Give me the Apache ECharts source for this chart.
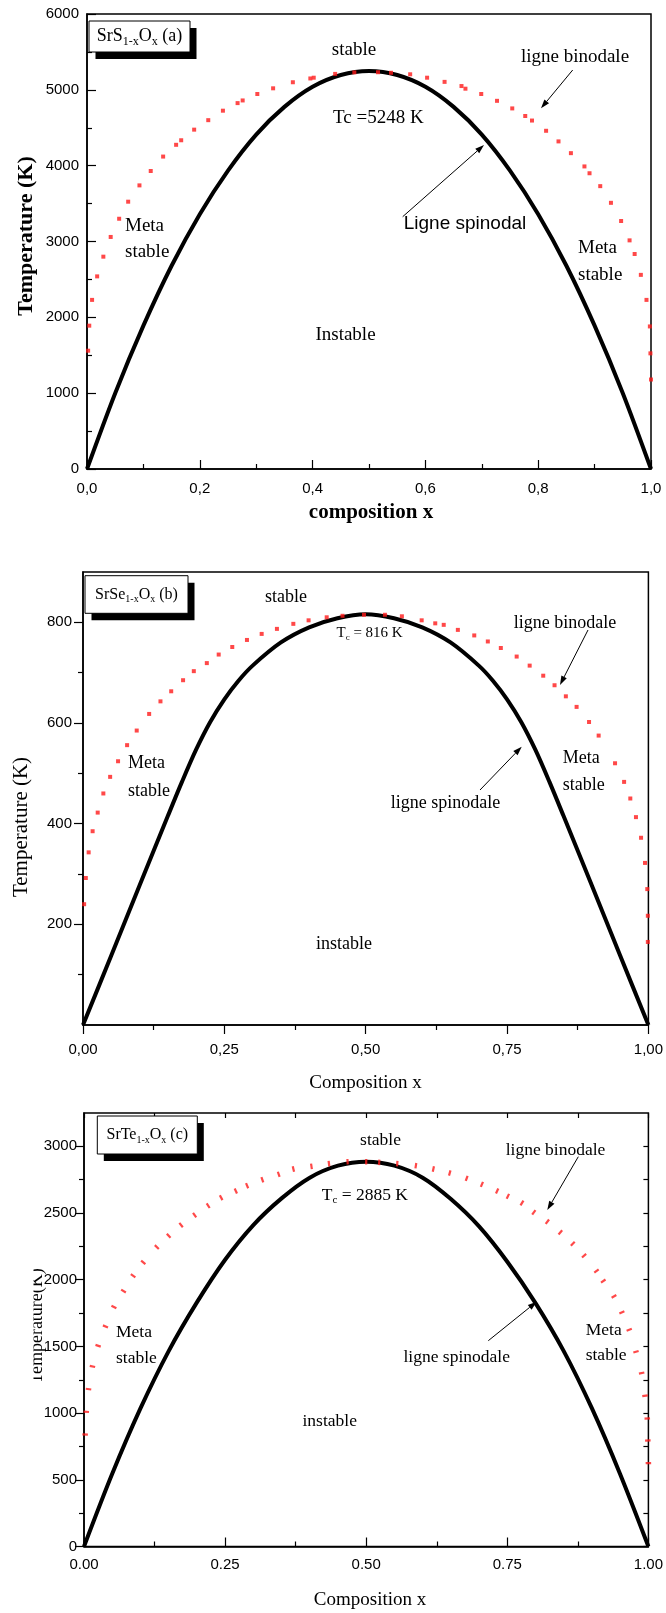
<!DOCTYPE html>
<html>
<head>
<meta charset="utf-8">
<script src="https://cdn.jsdelivr.net/npm/echarts@6/dist/echarts.min.js"></script>
<style>
  html, body { margin: 0; padding: 0; background: #fff; }
  #c { width: 666px; height: 1613px; }
</style>
</head>
<body>
<div id="c"></div>
<script>
// ---- Spinodal curves (composition x -> temperature K) ----
const spinA_x = [0, 0.05, 0.1, 0.15, 0.2, 0.25, 0.3, 0.35, 0.4, 0.45, 0.5,
                 0.55, 0.6, 0.65, 0.7, 0.75, 0.8, 0.85, 0.9, 0.95, 1.0];
const spinA_T = [0, 1000, 1890, 2680, 3360, 3935, 4410, 4775, 5040, 5195, 5248,
                 5195, 5040, 4775, 4410, 3935, 3360, 2680, 1890, 1000, 0];

const spinB_x = [0, 0.05, 0.1, 0.15, 0.175, 0.2, 0.225, 0.25, 0.275, 0.3, 0.35, 0.4, 0.45, 0.5,
                 0.55, 0.6, 0.65, 0.7, 0.725, 0.75, 0.775, 0.8, 0.825, 0.85, 0.9, 0.95, 1.0];
const spinB_T = [0, 138, 277, 415, 483, 547, 602, 647, 684, 714, 760, 790, 808, 816,
                 808, 790, 760, 714, 684, 647, 602, 547, 483, 415, 277, 138, 0];

const spinC_x = [0, 0.05, 0.1, 0.15, 0.2, 0.25, 0.3, 0.35, 0.4, 0.45, 0.5,
                 0.55, 0.6, 0.65, 0.7, 0.75, 0.8, 0.85, 0.9, 0.95, 1.0];
const spinC_T = [0, 545, 1035, 1465, 1830, 2150, 2410, 2610, 2765, 2855, 2885,
                 2855, 2765, 2605, 2400, 2135, 1825, 1465, 1035, 542, 0];

// ---- Binodal points ----
const binA_x = [0.002, 0.004, 0.009, 0.018, 0.029, 0.042, 0.057, 0.073, 0.093, 0.113, 0.135, 0.158, 0.167,
                0.19, 0.215, 0.241, 0.267, 0.276, 0.302, 0.33, 0.365, 0.396, 0.402, 0.44, 0.474, 0.516, 0.539,
                0.573, 0.603, 0.634, 0.664, 0.671, 0.699, 0.727, 0.754, 0.777, 0.789, 0.814, 0.836, 0.858,
                0.882, 0.891, 0.91, 0.929, 0.947, 0.962, 0.971, 0.982, 0.992, 0.998, 0.999, 1.0];
const binA_T = [1560, 1890, 2230, 2540, 2800, 3060, 3300, 3525, 3740, 3930, 4120, 4275, 4335,
                4475, 4600, 4725, 4825, 4860, 4945, 5020, 5100, 5150, 5160, 5210, 5230, 5232, 5225,
                5205, 5160, 5105, 5050, 5015, 4945, 4855, 4755, 4655, 4595, 4460, 4320, 4165,
                3990, 3900, 3730, 3510, 3270, 3015, 2835, 2560, 2230, 1880, 1525, 1180];

const binB_x = [0.002, 0.005, 0.010, 0.017, 0.026, 0.036, 0.048, 0.062, 0.078, 0.095, 0.117, 0.137, 0.156,
                0.177, 0.196, 0.219, 0.240, 0.264, 0.290, 0.316, 0.343, 0.372, 0.399, 0.431, 0.459, 0.497,
                0.534, 0.564, 0.599, 0.623, 0.638, 0.663, 0.692, 0.716, 0.739, 0.767, 0.790, 0.814, 0.834,
                0.854, 0.873, 0.895, 0.912, 0.941, 0.957, 0.968, 0.978, 0.987, 0.994, 0.998, 0.999, 0.999];
const binB_T = [240, 292, 343, 385, 422, 460, 493, 524, 556, 585, 618, 643, 663,
                685, 703, 719, 736, 751, 765, 777, 787, 797, 804, 810, 813, 815,
                815, 812, 804, 798, 795, 785, 774, 762, 749, 732, 714, 694, 675,
                653, 632, 602, 575, 520, 483, 450, 413, 372, 322, 270, 217, 165];

const binC_x = [0.002, 0.004, 0.008, 0.015, 0.025, 0.038, 0.053, 0.070, 0.087, 0.105, 0.129, 0.150, 0.172,
                0.196, 0.220, 0.243, 0.269, 0.289, 0.316, 0.345, 0.371, 0.403, 0.434, 0.467, 0.500, 0.523,
                0.555, 0.588, 0.619, 0.648, 0.678, 0.705, 0.732, 0.751, 0.776, 0.797, 0.821, 0.844, 0.866,
                0.886, 0.908, 0.920, 0.939, 0.953, 0.966, 0.978, 0.988, 0.994, 0.998, 0.999, 1.0];
const binC_T = [840, 1010, 1180, 1350, 1505, 1650, 1795, 1915, 2030, 2130, 2245, 2330, 2410,
                2485, 2555, 2615, 2665, 2705, 2750, 2790, 2830, 2850, 2870, 2885, 2885, 2880,
                2870, 2855, 2830, 2800, 2760, 2715, 2665, 2625, 2575, 2505, 2435, 2355, 2270,
                2180, 2065, 1990, 1875, 1755, 1625, 1460, 1300, 1130, 960, 795, 625];

// ---- Axis ticks ----
const ticksA_x = [0, 0.2, 0.4, 0.6, 0.8, 1.0];
const minorA_x = [0.1, 0.3, 0.5, 0.7, 0.9];
const ticksA_y = [0, 1000, 2000, 3000, 4000, 5000, 6000];
const minorA_y = [500, 1500, 2500, 3500, 4500, 5500];

const ticksB_x = [0, 0.25, 0.5, 0.75, 1.0];
const minorB_x = [0.125, 0.375, 0.625, 0.875];
const ticksB_y = [200, 400, 600, 800];
const minorB_y = [100, 300, 500, 700];

const ticksC_x = [0, 0.25, 0.5, 0.75, 1.0];
const minorC_x = [0.125, 0.375, 0.625, 0.875];
const ticksC_y = [0, 500, 1000, 1500, 2000, 2500, 3000];
const minorC_y = [250, 750, 1250, 1750, 2250, 2750];

const SERIF = '"Liberation Serif", "Times New Roman", serif';
const SANS = '"Liberation Sans", Arial, sans-serif';

const chart = echarts.init(document.getElementById('c'), null, { renderer: 'canvas' });

const xAxes = [], yAxes = [];

function addAxis(list, o) {
  list.push({
    type: 'value',
    gridIndex: o.grid,
    min: o.min, max: o.max,
    position: o.position,
    axisLine: { show: !!o.line, onZero: false, lineStyle: { color: '#000', width: 1.5 } },
    axisTick: {
      show: true, inside: o.inside, length: o.len,
      customValues: o.ticks,
      lineStyle: { color: '#000', width: 1.2 }
    },
    axisLabel: o.labels ? {
      show: true, customValues: o.ticks, formatter: o.fmt, margin: o.margin,
      fontFamily: SANS, fontSize: 15, color: '#000'
    } : { show: false },
    splitLine: { show: false }
  });
  return list.length - 1;
}

// panel (a)
const ax0 = addAxis(xAxes, { grid: 0, min: 0, max: 1, position: 'bottom', line: true, inside: true, len: 9, ticks: ticksA_x, labels: true, margin: 12, fmt: v => v.toFixed(1).replace('.', ',') });
addAxis(xAxes, { grid: 0, min: 0, max: 1, position: 'bottom', inside: true, len: 5, ticks: minorA_x });
const ay0 = addAxis(yAxes, { grid: 0, min: 0, max: 6000, position: 'left', line: true, inside: true, len: 9, ticks: ticksA_y, labels: true, margin: 8, fmt: v => String(v) });
addAxis(yAxes, { grid: 0, min: 0, max: 6000, position: 'left', inside: true, len: 5, ticks: minorA_y });

// panel (b)
const ax1 = addAxis(xAxes, { grid: 1, min: 0, max: 1, position: 'bottom', line: true, inside: false, len: 9, ticks: ticksB_x, labels: true, margin: 17, fmt: v => v.toFixed(2).replace('.', ',') });
addAxis(xAxes, { grid: 1, min: 0, max: 1, position: 'bottom', inside: false, len: 5, ticks: minorB_x });
const ay1 = addAxis(yAxes, { grid: 1, min: 0, max: 900, position: 'left', line: true, inside: false, len: 9, ticks: ticksB_y, labels: true, margin: 11, fmt: v => String(v) });
addAxis(yAxes, { grid: 1, min: 0, max: 900, position: 'left', inside: false, len: 5, ticks: minorB_y });

// panel (c)
const ax2 = addAxis(xAxes, { grid: 2, min: 0, max: 1, position: 'bottom', line: true, inside: true, len: 9, ticks: ticksC_x, labels: true, margin: 11, fmt: v => v.toFixed(2) });
addAxis(xAxes, { grid: 2, min: 0, max: 1, position: 'bottom', inside: true, len: 5, ticks: minorC_x });
addAxis(xAxes, { grid: 2, min: 0, max: 1, position: 'top', inside: true, len: 5, ticks: ticksC_x.concat(minorC_x) });
const ay2 = addAxis(yAxes, { grid: 2, min: 0, max: 3250, position: 'left', line: true, inside: false, len: 9, ticks: ticksC_y, labels: true, margin: 7, fmt: v => String(v) });
addAxis(yAxes, { grid: 2, min: 0, max: 3250, position: 'left', inside: false, len: 5, ticks: minorC_y });
addAxis(yAxes, { grid: 2, min: 0, max: 3250, position: 'right', inside: true, len: 5, ticks: ticksC_y.concat(minorC_y) });

const zip = (xs, ys) => xs.map((x, i) => [x, ys[i]]);

function spinodal(xi, yi, xs, T) {
  return {
    type: 'line', xAxisIndex: xi, yAxisIndex: yi, data: zip(xs, T),
    smooth: 0.3, showSymbol: false, symbol: 'none',
    lineStyle: { color: '#000', width: 4 }, z: 3, animation: false
  };
}
function binodal(xi, yi, xs, ts, size) {
  return {
    type: 'scatter', xAxisIndex: xi, yAxisIndex: yi, data: zip(xs, ts),
    symbol: 'rect', symbolSize: size,
    itemStyle: { color: '#ff1a1a' }, z: 4, animation: false
  };
}

const series = [
  spinodal(ax0, ay0, spinA_x, spinA_T), binodal(ax0, ay0, binA_x, binA_T, 4),
  spinodal(ax1, ay1, spinB_x, spinB_T), binodal(ax1, ay1, binB_x, binB_T, 4),
  spinodal(ax2, ay2, spinC_x, spinC_T), binodal(ax2, ay2, binC_x, binC_T, [2.2, 5.5])
];

// ---- Annotation helpers ----
function txt(text, x, y, size, align, extra) {
  return {
    type: 'text', x: x, y: y, z: 10,
    style: Object.assign({
      text: text, fill: '#000', fontSize: size, fontFamily: SERIF,
      align: align || 'center', verticalAlign: 'middle'
    }, extra || {})
  };
}
function arrow(x1, y1, x2, y2) {
  const a = Math.atan2(y2 - y1, x2 - x1), L = 9, W = 3;
  const bx = x2 - L * Math.cos(a), by = y2 - L * Math.sin(a);
  return [
    { type: 'line', z: 10, shape: { x1: x1, y1: y1, x2: bx, y2: by }, style: { stroke: '#000', lineWidth: 1 } },
    { type: 'polygon', z: 10, shape: { points: [[x2, y2], [bx - W * Math.sin(a), by + W * Math.cos(a)], [bx + W * Math.sin(a), by - W * Math.cos(a)]] }, style: { fill: '#000' } }
  ];
}
function tagBox(x, y, w, h, label, letter, size, sub) {
  return [
    { type: 'rect', z: 8, shape: { x: x + 6.5, y: y + 7, width: w, height: h }, style: { fill: '#000' } },
    { type: 'rect', z: 9, shape: { x: x, y: y, width: w, height: h }, style: { fill: '#fff', stroke: '#000', lineWidth: 1 } },
    {
      type: 'text', z: 10, x: x + w / 2, y: y + h / 2,
      style: {
        text: '{m|' + label + '}{s|1-x}{m|O}{s|x}{m| (' + letter + ')}',
        align: 'center', verticalAlign: 'middle',
        rich: {
          m: { fontFamily: SERIF, fontSize: size, fill: '#000', lineHeight: size + 4 },
          s: { fontFamily: SERIF, fontSize: sub, fill: '#000', verticalAlign: 'bottom', lineHeight: sub }
        }
      }
    }
  ];
}
function tc(value, x, y, size) {
  return {
    type: 'text', x: x, y: y, z: 10,
    style: {
      text: '{m|T}{s|c}{m| = ' + value + ' K}', align: 'left', verticalAlign: 'middle',
      rich: {
        m: { fontFamily: SERIF, fontSize: size, fill: '#000', lineHeight: size + 4 },
        s: { fontFamily: SERIF, fontSize: Math.round(size * 0.62), fill: '#000', verticalAlign: 'bottom', lineHeight: size * 0.62 }
      }
    }
  };
}

const graphics = [].concat(
  // (a)
  tagBox(89, 21, 101, 31, 'SrS', 'a', 18, 12),
  txt('stable', 354, 50, 19),
  txt('Tc =5248 K', 333, 118, 19, 'left'),
  txt('ligne binodale', 575, 57, 19),
  arrow(572.7, 70, 541, 108.3),
  txt('Ligne spinodal', 465, 224, 19, 'center', { fontFamily: SANS }),
  arrow(402.7, 216.7, 484, 145),
  txt('Meta', 125, 226, 19, 'left'), txt('stable', 125, 252, 19, 'left'),
  txt('Meta', 578, 248, 19, 'left'), txt('stable', 578, 275, 19, 'left'),
  txt('Instable', 345.5, 335, 19),
  txt('composition x', 371, 513, 21, 'center', { fontWeight: 'bold' }),
  Object.assign(txt('Temperature (K)', 26, 236, 22, 'center', { fontWeight: 'bold' }), { rotation: Math.PI / 2 }),
  // (b)
  tagBox(85, 575.7, 103, 37.6, 'SrSe', 'b', 16, 10),
  txt('stable', 286, 597, 18),
  tc('816', 336.5, 633, 15),
  txt('ligne binodale', 565, 623, 18),
  arrow(588, 630, 560, 685),
  txt('ligne spinodale', 445.5, 803, 18),
  arrow(480, 790, 521.7, 746.7),
  txt('Meta', 562.7, 758, 18, 'left'), txt('stable', 562.7, 785, 18, 'left'),
  txt('Meta', 128, 763, 18, 'left'), txt('stable', 128, 791.7, 18, 'left'),
  txt('instable', 344, 944, 18),
  txt('Composition x', 365.5, 1083, 19),
  Object.assign(txt('Temperature (K)', 21, 827, 21), { rotation: Math.PI / 2 }),
  // (c)
  tagBox(97.3, 1116, 100, 38, 'SrTe', 'c', 16, 10),
  txt('stable', 380.5, 1140, 17.5),
  tc('2885', 321.7, 1195, 17.5),
  txt('ligne binodale', 555.5, 1150, 17.5),
  arrow(578.3, 1156.7, 547.3, 1210),
  txt('ligne spinodale', 456.7, 1357, 17.5),
  arrow(488.3, 1340.7, 536.7, 1301.7),
  txt('Meta', 585.7, 1330, 17.5, 'left'), txt('stable', 585.7, 1355, 17.5, 'left'),
  txt('Meta', 116, 1332, 17.5, 'left'), txt('stable', 116, 1358, 17.5, 'left'),
  txt('instable', 329.7, 1421, 17.5),
  txt('Composition x', 370, 1600, 19),
  // (c) axis title, its outer edge trimmed by the page margin
  Object.assign(txt('Temperature(K)', 37.5, 1326, 18), { rotation: Math.PI / 2 }),
  { type: 'rect', z: 11, shape: { x: 0, y: 1240, width: 33.5, height: 175 }, style: { fill: '#fff' } }
);

const option = {
  animation: false,
  backgroundColor: '#fff',
  grid: [
    { left: 87, top: 14, width: 564, height: 455, show: true, borderColor: '#000', borderWidth: 1.5, backgroundColor: 'transparent' },
    { left: 83, top: 572, width: 568, height: 453, show: true, borderColor: '#000', borderWidth: 1.5, backgroundColor: 'transparent' },
    { left: 84, top: 1113, width: 573, height: 433.5, show: true, borderColor: '#000', borderWidth: 1.5, backgroundColor: 'transparent' }
  ],
  xAxis: xAxes,
  yAxis: yAxes,
  series: series,
  graphic: { elements: graphics }
};
chart.setOption(option);

// Orient the (c) binodal dashes across the curve direction
const cIdx = 5;
const px = binC_x.map((x, i) => chart.convertToPixel({ seriesIndex: cIdx }, [x, binC_T[i]]));
const rotated = binC_x.map((x, i) => {
  const p = px[Math.max(0, i - 1)], n = px[Math.min(px.length - 1, i + 1)];
  const ang = Math.atan2(-(n[1] - p[1]), n[0] - p[0]) * 180 / Math.PI;
  return { value: [x, binC_T[i]], symbolRotate: ang };
});
chart.setOption({ series: [{}, {}, {}, {}, {}, { data: rotated }] });
</script>
</body>
</html>
